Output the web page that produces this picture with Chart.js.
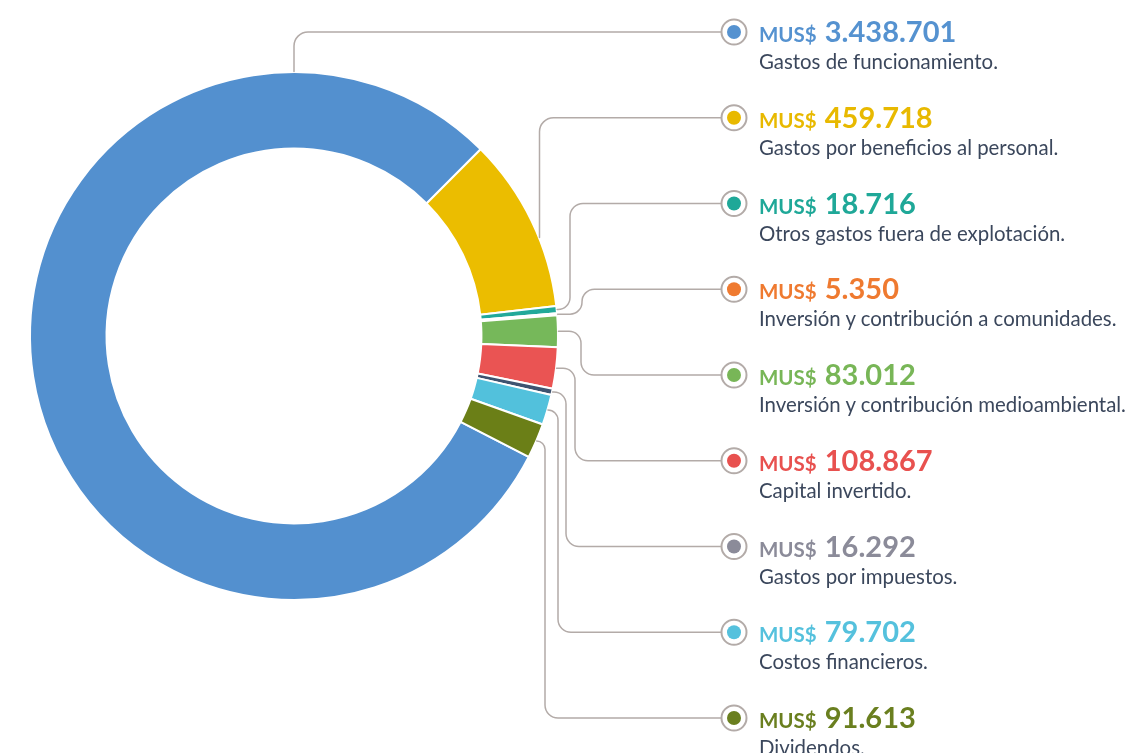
<!DOCTYPE html>
<html>
<head>
<meta charset="utf-8">
<script src="https://cdn.jsdelivr.net/npm/chart.js@4.4.0/dist/chart.umd.min.js"></script>
<style>
  html, body { margin: 0; padding: 0; background: #fff; }
  #wrap { position: relative; width: 1132px; height: 753px; overflow: hidden; }
  #gastos { position: absolute; left: 0; top: 0; }
  .item { position: absolute; left: 759px; font-family: Lato, "Open Sans", sans-serif; white-space: nowrap; }
  .monto { font-weight: 700; font-size: 29px; line-height: 30px; }
  .monto span { font-size: 20.5px; margin-right: 1px; }
  .glosa { font-size: 20.4px; line-height: 24px; color: #3b475c; }
</style>
</head>
<body>
<div id="wrap">
  <canvas id="gastos" width="1132" height="753"></canvas>
</div>
<script>
// Distribución del valor económico (MUS$)
const conceptos = [
  'Gastos de funcionamiento.',
  'Gastos por beneficios al personal.',
  'Otros gastos fuera de explotación.',
  'Inversión y contribución a comunidades.',
  'Inversión y contribución medioambiental.',
  'Capital invertido.',
  'Gastos por impuestos.',
  'Costos financieros.',
  'Dividendos.'
];
const montos = [3438701, 459718, 18716, 5350, 83012, 108867, 16292, 79702, 91613];
const montosTexto = ['3.438.701', '459.718', '18.716', '5.350', '83.012', '108.867', '16.292', '79.702', '91.613'];

const coloresArco = ['#5390cf', '#ebbd00', '#22a99a', '#ee7a2e', '#76b85a', '#ea5453', '#3e5370', '#52c1dc', '#6b7f17'];
const coloresTexto = ['#5592d0', '#e8b900', '#1fa898', '#ef7a30', '#78b657', '#e8514f', '#8b8b99', '#55c1dd', '#6a7f1f'];

// posiciones de las etiquetas y de las guías
const ETIQ_Y0 = 32;
const ETIQ_PASO = 85.75;
const MARCA_X = 734;
const guias = [
  { modo: 'v', x: null },
  { modo: 'v', x: 539.5 },
  { modo: 'h', x: 570 },
  { modo: 'h', x: 582 },
  { modo: 'h', x: 581 },
  { modo: 'h', x: 575 },
  { modo: 'h', x: 566 },
  { modo: 'h', x: 558 },
  { modo: 'h', x: 545 }
];

const total = montos.reduce((a, b) => a + b, 0);
// el segundo tramo parte a 45° desde arriba
const giro = 45 - montos[0] / total * 360;

const wrap = document.getElementById('wrap');
conceptos.forEach((c, i) => {
  const y = ETIQ_Y0 + i * ETIQ_PASO;
  const d = document.createElement('div');
  d.className = 'item';
  d.style.top = (y - 16) + 'px';
  d.innerHTML = '<div class="monto" style="color:' + coloresTexto[i] + '"><span>MUS$</span> ' +
    montosTexto[i] + '</div><div class="glosa">' + c + '</div>';
  wrap.appendChild(d);
});

const lineasGuia = {
  id: 'lineasGuia',
  afterDatasetsDraw(chart) {
    const ctx = chart.ctx;
    const arcs = chart.getDatasetMeta(0).data;
    ctx.save();
    ctx.lineCap = 'round';
    arcs.forEach((arc, i) => {
      const p = arc.getProps(['x', 'y', 'startAngle', 'endAngle', 'outerRadius'], true);
      const R = p.outerRadius + 0.5;
      const yl = ETIQ_Y0 + i * ETIQ_PASO;
      const fin = MARCA_X - 13;
      const g = guias[i];
      ctx.beginPath();
      ctx.strokeStyle = '#b3aba8';
      ctx.lineWidth = 1.5;
      if (g.modo === 'v') {
        const gx = g.x === null ? p.x : g.x;
        const ay = p.y - Math.sqrt(R * R - (gx - p.x) * (gx - p.x));
        ctx.moveTo(gx, ay);
        ctx.arcTo(gx, yl, fin, yl, 14);
        ctx.lineTo(fin, yl);
      } else {
        const mid = (p.startAngle + p.endAngle) / 2;
        const ax = p.x + R * Math.cos(mid);
        const ay = p.y + R * Math.sin(mid);
        const r1 = Math.min(12, Math.abs(g.x - ax), Math.abs(yl - ay) / 2);
        const r2 = Math.min(13, Math.abs(yl - ay) / 2);
        ctx.moveTo(ax, ay);
        ctx.arcTo(g.x, ay, g.x, yl, r1);
        ctx.arcTo(g.x, yl, fin, yl, r2);
        ctx.lineTo(fin, yl);
      }
      ctx.stroke();

      // marcador
      ctx.beginPath();
      ctx.arc(MARCA_X, yl, 12.5, 0, Math.PI * 2);
      ctx.fillStyle = '#fff';
      ctx.fill();
      ctx.lineWidth = 2;
      ctx.strokeStyle = '#b3aba8';
      ctx.stroke();
      ctx.beginPath();
      ctx.arc(MARCA_X, yl, 7, 0, Math.PI * 2);
      ctx.fillStyle = coloresTexto[i];
      ctx.fill();
    });
    ctx.restore();
  }
};

new Chart(document.getElementById('gastos'), {
  type: 'doughnut',
  data: {
    labels: conceptos,
    datasets: [{
      data: montos,
      backgroundColor: coloresArco,
      borderColor: '#ffffff',
      borderWidth: 2,
      hoverOffset: 0
    }]
  },
  options: {
    responsive: false,
    animation: false,
    events: [],
    cutout: '71%',
    rotation: giro,
    layout: { padding: { left: 29, top: 71, right: 573, bottom: 152 } },
    plugins: {
      legend: { display: false },
      tooltip: { enabled: false }
    }
  },
  plugins: [lineasGuia]
});
</script>
</body>
</html>
